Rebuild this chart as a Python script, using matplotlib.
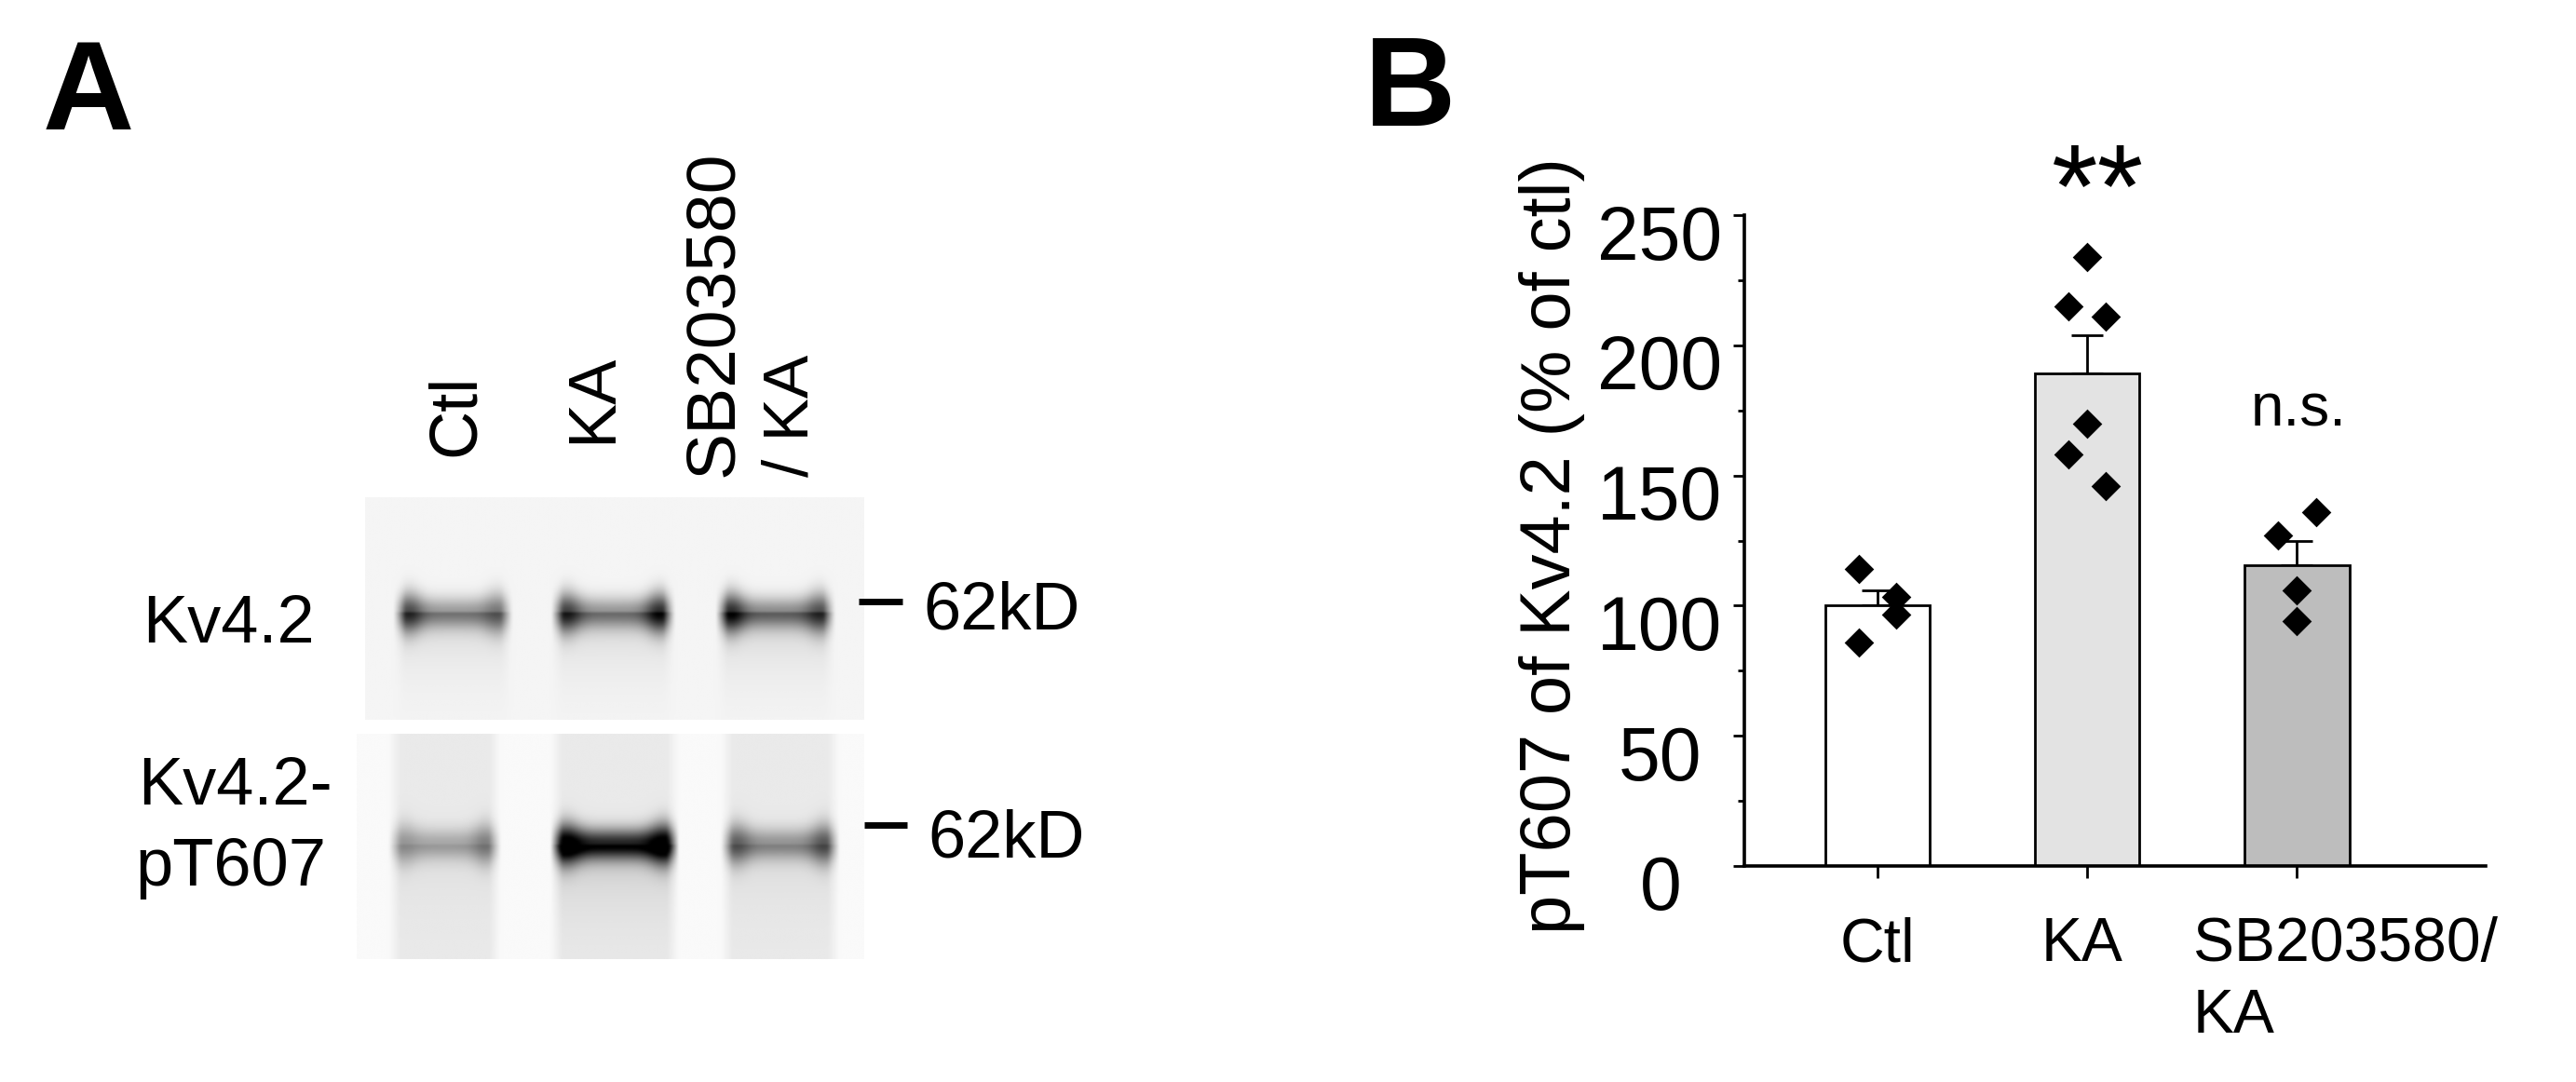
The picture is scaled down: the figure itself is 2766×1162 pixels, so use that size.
import numpy as np
import matplotlib
matplotlib.use("Agg")
import matplotlib.pyplot as plt
from matplotlib.transforms import ScaledTranslation

plt.rcParams['font.family'] = ['Liberation Sans', 'DejaVu Sans']

W, H = 2766, 1162
categories = ['Ctl', 'KA', 'SB203580/\nKA']
means = [100, 189.3, 115.7]
errors = [5.8, 14.6, 9.3]
bar_colors = ['#ffffff', '#e3e3e3', '#bdbdbd']
ctl_pts = [114, 103.5, 96.4, 85.8]
ctl_off = [-0.09, 0.09, 0.09, -0.09]
ka_pts = [234, 215, 211, 170, 158, 146]
ka_off = [0, -0.09, 0.09, 0, -0.09, 0.09]
sb_pts = [136, 127, 106, 94]
sb_off = [0.09, -0.09, 0, 0]
major_ticks = [0, 50, 100, 150, 200, 250]
minor_ticks = [25, 75, 125, 175, 225]

# blot lanes: left, right (fraction of width), edge darkness L, centre, edge darkness R
top_lanes = [(0.067, 0.283, 0.68, 0.36, 0.50),
             (0.384, 0.610, 0.72, 0.38, 0.80),
             (0.715, 0.932, 0.80, 0.42, 0.66)]
bot_lanes = [(0.073, 0.272, 0.33, 0.26, 0.42),
             (0.393, 0.624, 1.05, 0.78, 1.05),
             (0.730, 0.942, 0.55, 0.34, 0.58)]

def blot(lanes, band_y, bg_lane, bg_gap, smear):
    ny, nx = 120, 240
    x = np.linspace(0, 1, nx)[None, :]
    y = np.linspace(0, 1, ny)[:, None]
    dark = np.full((ny, nx), float(bg_gap))
    for l, r, a, b, c in lanes:
        mask = np.clip((x - l + 0.012) / 0.024, 0, 1) * np.clip((r + 0.012 - x) / 0.024, 0, 1)
        w = r - l
        edge_l = np.exp(-((x - l - 0.02) / (w * 0.13)) ** 2)
        edge_r = np.exp(-((x - r + 0.02) / (w * 0.13)) ** 2)
        prof = b + (a - b) * edge_l + (c - b) * edge_r
        # bands spread a little further at the lane edges
        sigma = 0.068 + 0.02 * (edge_l + edge_r)
        band = np.exp(-((y - band_y) / sigma) ** 2)
        tail = smear * np.exp(-np.clip(y - band_y, 0, None) / 0.16) * (y > band_y) * b
        dark += mask * (bg_lane - bg_gap + prof * band + tail)
    return np.clip(1 - dark, 0, 1)

fig = plt.figure(figsize=(W / 100, H / 100), dpi=100, facecolor='white')
ov = fig.add_axes([0, 0, 1, 1])
ov.set_xlim(0, W); ov.set_ylim(H, 0); ov.axis('off')

ov.imshow(blot(top_lanes, 0.52, 0.04, 0.04, 0.45), cmap='gray', vmin=0, vmax=1,
          extent=[392, 928, 773, 534], aspect='auto', interpolation='bicubic')
ov.imshow(blot(bot_lanes, 0.49, 0.085, 0.02, 0.25), cmap='gray', vmin=0, vmax=1,
          extent=[383, 928, 1030, 788], aspect='auto', interpolation='bicubic')
ov.set_xlim(0, W); ov.set_ylim(H, 0)
ov.plot([922, 969], [646, 646], color='k', lw=5, solid_capstyle='butt')
ov.plot([928, 974], [886, 886], color='k', lw=5, solid_capstyle='butt')

fs = 52
def T(x, y, s, **k):
    k.setdefault('fontsize', fs); k.setdefault('ha', 'center'); k.setdefault('va', 'center')
    ov.text(x, y, s, **k)

T(95, 104, 'A', fontsize=98, fontweight='bold')
T(1514, 100, 'B', fontsize=98, fontweight='bold')
T(490, 490, 'Ctl', rotation=90, va='bottom')
T(638, 476, 'KA', rotation=90, va='bottom')
T(767, 512, 'SB203580', rotation=90, va='bottom', fontsize=54)
T(850, 512, '/ KA', rotation=90, va='bottom', fontsize=50)
T(245, 671, 'Kv4.2')
T(252, 846, 'Kv4.2-')
T(248, 933, 'pT607')
T(1076, 657, '62kD')
T(1081, 902, '62kD')
T(1667, 586, 'pT607 of Kv4.2 (% of ctl)', rotation=90, fontsize=54.5)
T(2468, 441, 'n.s.', fontsize=46)
T(2253, 211, '**', fontsize=92)

# chart axes
x0, x1, y0, y1 = 1873, 2669, 930, 231
ax = fig.add_axes([x0 / W, 1 - y0 / H, (x1 - x0) / W, (y0 - y1) / H])
ax.patch.set_alpha(0)
xs = [0, 1, 2]
ax.bar(xs, means, width=0.5, color=bar_colors, edgecolor='k', linewidth=2, zorder=2)
ax.errorbar(xs, means, yerr=[[0, 0, 0], errors], fmt='none', ecolor='k', elinewidth=2,
            capsize=12.5, capthick=2, zorder=1)
for i, (pts, off) in enumerate([(ctl_pts, ctl_off), (ka_pts, ka_off), (sb_pts, sb_off)]):
    ax.scatter(np.array(off) + xs[i], pts, marker='D', s=260, color='k', linewidths=0, zorder=3)
ax.set_xlim(-0.635, 2.9)
ax.set_ylim(0, 250)
for s in ['top', 'right']:
    ax.spines[s].set_visible(False)
for s in ['left', 'bottom']:
    ax.spines[s].set_linewidth(2.6)
ax.set_yticks(major_ticks)
ax.set_yticks(minor_ticks, minor=True)
ax.set_xticks(xs)
ax.set_xticklabels(categories, fontsize=47.5, ma='left', linespacing=1.3, va='top')
ax.tick_params(axis='y', which='major', length=9, width=2, labelsize=58, pad=8)
ax.tick_params(axis='y', which='minor', length=5, width=2)
ax.tick_params(axis='x', length=9, width=2, pad=30)
# y labels sit below their ticks, and the two shortest are set further left
y_shift = {0: -0.44, 50: -0.22}
for val, lab in zip(major_ticks, ax.get_yticklabels()):
    lab.set_transform(lab.get_transform() + ScaledTranslation(y_shift.get(val, 0), -0.18, fig.dpi_scale_trans))
xl = ax.get_xticklabels()
xl[1].set_transform(xl[1].get_transform() + ScaledTranslation(-0.06, 0, fig.dpi_scale_trans))
xl[2].set_transform(xl[2].get_transform() + ScaledTranslation(0.52, 0, fig.dpi_scale_trans))

fig.savefig('out.png', dpi=100, facecolor='white')
